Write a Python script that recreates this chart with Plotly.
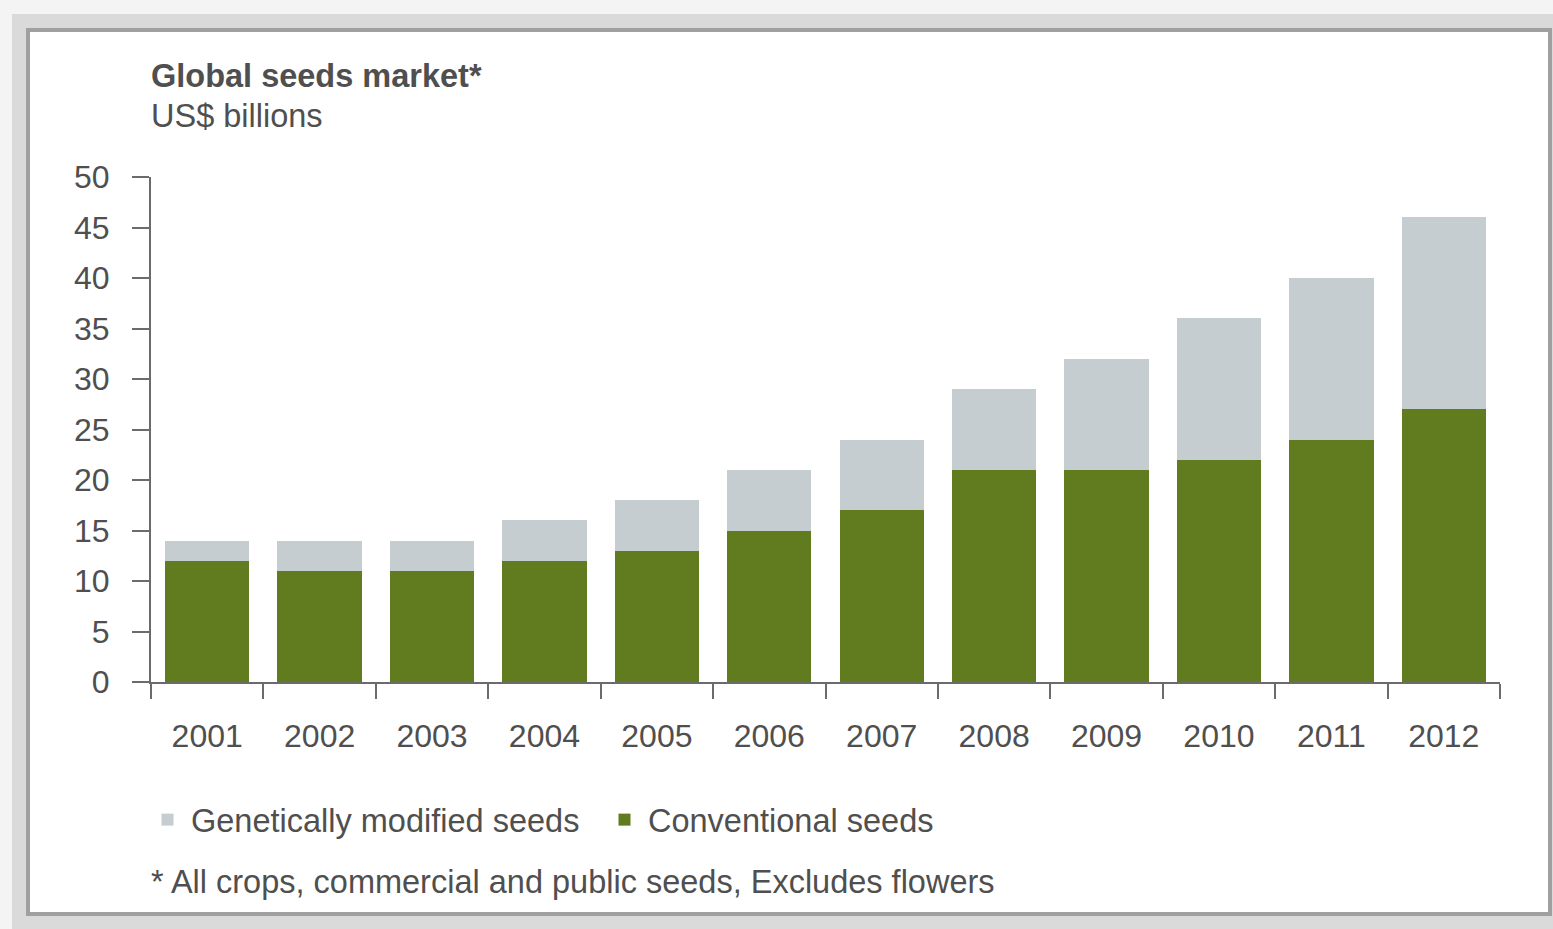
import plotly.graph_objects as go

years = ["2001", "2002", "2003", "2004", "2005", "2006", "2007", "2008", "2009", "2010", "2011", "2012"]
conventional = [12, 11, 11, 12, 13, 15, 17, 21, 21, 22, 24, 27]
gm = [2, 3, 3, 4, 5, 6, 7, 8, 11, 14, 16, 19]
y_ticks = [0, 5, 10, 15, 20, 25, 30, 35, 40, 45, 50]

W, H = 1553, 929
L, R, T, B = 151, 1500, 177, 682  # plot area in pixels

def px(x):
    return (x - L) / (R - L)

def py(y):
    return (B - y) / (B - T)

TXT = "#4f4f4f"
FONT = "Liberation Sans, Arial, Helvetica, sans-serif"
AX = "#6b6b6b"

fig = go.Figure()
fig.add_trace(go.Bar(x=years, y=conventional, name="Conventional seeds",
                     marker=dict(color="#617c1f", line=dict(width=0))))
fig.add_trace(go.Bar(x=years, y=gm, name="Genetically modified seeds",
                     marker=dict(color="#c6cdd1", line=dict(width=0))))

fig.update_layout(
    width=W, height=H,
    margin=dict(l=L, r=W - R, t=T, b=H - B, pad=0),
    barmode="stack", bargap=0.25,
    paper_bgcolor="#f4f4f4", plot_bgcolor="rgba(0,0,0,0)",
    font=dict(family=FONT, color=TXT, size=32),
    showlegend=True,
    legend=dict(orientation="h", traceorder="reversed",
                x=px(144), xanchor="left", y=py(820), yanchor="middle",
                font=dict(size=32.5, color=TXT), bgcolor="rgba(0,0,0,0)",
                itemclick=False, itemwidth=37, entrywidth=405),
    xaxis=dict(type="category", showline=True, linecolor=AX, linewidth=2,
               ticks="outside", tickson="boundaries", ticklen=15, tickwidth=2,
               tickcolor=AX, showgrid=False, zeroline=False,
               tickfont=dict(size=32, color=TXT), ticklabelstandoff=25),
    yaxis=dict(range=[0, 50], tickvals=y_ticks, showline=True, linecolor=AX,
               linewidth=2, ticks="outside", ticklen=17, tickwidth=2, tickcolor=AX,
               showgrid=False, zeroline=False, tickfont=dict(size=32, color=TXT),
               ticklabelstandoff=16),
    shapes=[
        dict(type="rect", xref="paper", yref="paper", layer="below",
             x0=px(12), x1=px(1553), y0=py(14), y1=py(929),
             fillcolor="#dadada", line=dict(width=0)),
        dict(type="rect", xref="paper", yref="paper", layer="below",
             x0=px(28), x1=px(1550), y0=py(30), y1=py(914),
             fillcolor="#ffffff", line=dict(color="#a0a0a0", width=4)),
    ],
    annotations=[
        dict(text="<b>Global seeds market*</b>", xref="paper", yref="paper",
             x=px(149), y=py(76), xanchor="left", yanchor="middle",
             showarrow=False, font=dict(size=32.5, color=TXT)),
        dict(text="US$ billions", xref="paper", yref="paper",
             x=px(149), y=py(116), xanchor="left", yanchor="middle",
             showarrow=False, font=dict(size=32.5, color=TXT)),
        dict(text="* All crops, commercial and public seeds, Excludes flowers",
             xref="paper", yref="paper", x=px(149), y=py(882),
             xanchor="left", yanchor="middle", showarrow=False,
             font=dict(size=32.5, color=TXT)),
    ],
)

fig.write_html("out.html", config={"displayModeBar": False},
               post_script="document.body.style.margin='0';document.body.style.overflow='hidden';")
